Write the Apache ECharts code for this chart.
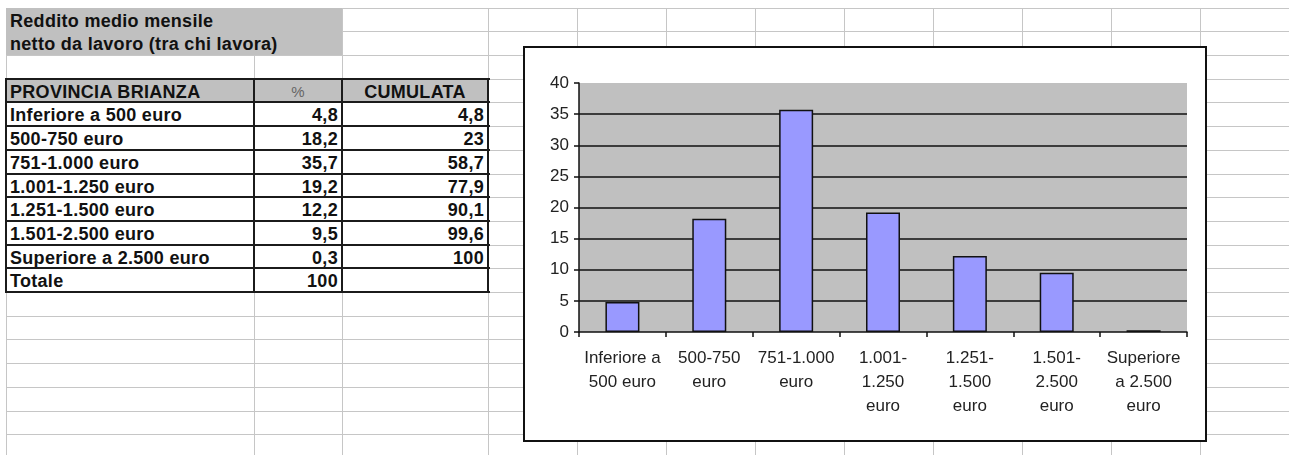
<!DOCTYPE html>
<html>
<head>
<meta charset="utf-8">
<script src="https://cdn.jsdelivr.net/npm/echarts@6/dist/echarts.min.js"></script>
<style>
  html, body { margin: 0; padding: 0; background: #fff; }
  body { width: 1289px; height: 455px; position: relative; overflow: hidden; font-family: 'Liberation Sans', Arial, sans-serif; }
  .hl, .vl { position: absolute; background: #c6c6c6; }
  .hl { height: 1px; }
  .vl { width: 1px; }
  .blk { position: absolute; }
  .txt { position: absolute; white-space: nowrap; font-size: 18px; font-weight: bold; color: #111; line-height: 24px; letter-spacing: 0.3px; }
  .tl { position: absolute; background: #1b1b1b; }
  #frame { position: absolute; left: 523px; top: 46px; width: 684px; height: 396px; box-sizing: border-box; border: 2px solid #111; background: #fff; }
  #chart { position: absolute; left: 525px; top: 48px; width: 680px; height: 392px; }
</style>
</head>
<body>
<div id="frame"></div>
<div id="chart"></div>
<script>
// dati della tabella / grafico
const titolo = ['Reddito medio mensile', 'netto da lavoro (tra chi lavora)']
const intestazione = ['PROVINCIA BRIANZA', '%', 'CUMULATA']
const categorie = ['Inferiore a 500 euro', '500-750 euro', '751-1.000 euro', '1.001-1.250 euro', '1.251-1.500 euro', '1.501-2.500 euro', 'Superiore a 2.500 euro']
const percentuali = [4.8, 18.2, 35.7, 19.2, 12.2, 9.5, 0.3]
const cumulata = [4.8, 23, 58.7, 77.9, 90.1, 99.6, 100]
const totale = ['Totale', 100]
const etichetteAsse = ['Inferiore a\n500 euro', '500-750\neuro', '751-1.000\neuro', '1.001-\n1.250\neuro', '1.251-\n1.500\neuro', '1.501-\n2.500\neuro', 'Superiore\na 2.500\neuro']
const yMin = 0
const yMax = 40
const yStep = 5

// griglia del foglio
const colX = [6, 254, 342, 488, 577, 666, 755, 844, 933, 1022, 1111, 1200]
const rowY = []
for (let k = 0; k < 19; k++) rowY.push(Math.round(7.6 + 23.7 * k))

const body = document.body
function add (cls, css, text) {
  const d = document.createElement('div')
  d.className = cls
  Object.assign(d.style, css)
  if (text !== undefined) d.textContent = text
  body.insertBefore(d, document.getElementById('frame'))
  return d
}
const px = v => v + 'px'
const fmt = v => String(v).replace('.', ',')

rowY.forEach(y => add('hl', { left: px(6), top: px(y), width: px(1289 - 6) }))
colX.forEach(x => add('vl', { left: px(x), top: px(rowY[0]), height: px(455 - rowY[0]) }))

// titolo (cella unita grigia)
add('blk', { left: px(6), top: px(rowY[0]), width: px(colX[2] - 6), height: px(rowY[2] - rowY[0]), background: '#c0c0c0' })
titolo.forEach((t, i) => add('txt', { left: px(10), top: px(rowY[i] + 1) }, t))

// tabella
const tTop = rowY[3]
const tBot = rowY[12]
add('blk', { left: px(colX[0]), top: px(tTop), width: px(colX[3] - colX[0]), height: px(tBot - tTop), background: '#fff' })
add('blk', { left: px(colX[0]), top: px(tTop), width: px(colX[3] - colX[0]), height: px(rowY[4] - tTop), background: '#c0c0c0' })

function cella (r, c, text, align, extra) {
  const x0 = colX[c]
  const x1 = colX[c + 1]
  const css = { top: px(rowY[r] + 1), width: px(x1 - x0 - 8), left: px(x0 + 4), textAlign: align }
  Object.assign(css, extra || {})
  add('txt', css, text)
}
cella(3, 0, intestazione[0], 'left')
cella(3, 1, intestazione[1], 'center', { fontWeight: 'normal', color: '#666', fontSize: '15px' })
cella(3, 2, intestazione[2], 'center')
categorie.forEach((c, i) => {
  cella(4 + i, 0, c, 'left')
  cella(4 + i, 1, fmt(percentuali[i]), 'right')
  cella(4 + i, 2, fmt(cumulata[i]), 'right')
})
cella(11, 0, totale[0], 'left')
cella(11, 1, fmt(totale[1]), 'right')

for (let r = 3; r <= 12; r++) add('tl', { left: px(colX[0]), top: px(rowY[r] - 1), width: px(colX[3] - colX[0] + 2), height: px(2) })
for (let c = 0; c <= 3; c++) add('tl', { left: px(colX[c] - 1), top: px(tTop - 1), width: px(2), height: px(tBot - tTop + 2) })

// grafico
const chart = echarts.init(document.getElementById('chart'))
const font = 'Liberation Sans'
const gridColors = []
for (let v = yMin; v <= yMax; v += yStep) gridColors.push(v === yMin || v === yMax ? 'rgba(0,0,0,0)' : '#111')

const option = {
  animation: false,
  backgroundColor: '#fff',
  grid: { left: 54, right: 18, top: 35, bottom: 108, show: true, backgroundColor: '#c0c0c0', borderWidth: 0 },
  xAxis: {
    type: 'category',
    data: categorie,
    axisLine: { lineStyle: { color: '#111', width: 1.5 } },
    axisTick: { show: true, length: 5, lineStyle: { color: '#111', width: 1.5 } },
    axisLabel: {
      interval: 0, margin: 14, fontFamily: font, fontSize: 17, color: '#222', lineHeight: 24,
      formatter: (v, i) => etichetteAsse[i]
    },
    splitLine: { show: false }
  },
  yAxis: {
    type: 'value',
    min: yMin,
    max: yMax,
    interval: yStep,
    axisLine: { show: true, lineStyle: { color: '#111', width: 1.5 } },
    axisTick: { show: true, length: 5, lineStyle: { color: '#111', width: 1.5 } },
    axisLabel: { margin: 10, fontFamily: font, fontSize: 17, color: '#222' },
    splitLine: { show: true, lineStyle: { color: gridColors, width: 1.5 } }
  },
  series: [{
    type: 'bar',
    data: percentuali,
    barWidth: 34,
    itemStyle: { color: '#9999ff', borderColor: '#111', borderWidth: 1.5 }
  }]
}
chart.setOption(option)
</script>
</body>
</html>
